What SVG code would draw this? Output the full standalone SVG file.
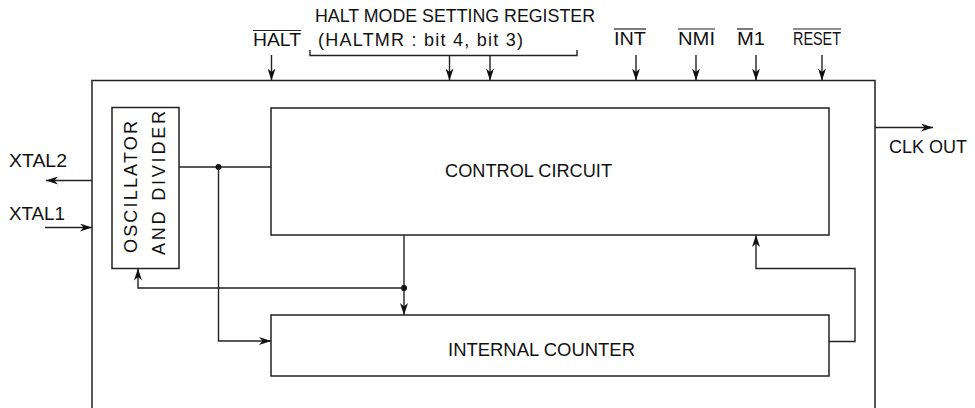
<svg xmlns="http://www.w3.org/2000/svg" width="975" height="408" viewBox="0 0 975 408">
<style>
text{font-family:"Liberation Sans",Arial,sans-serif;font-size:18px;fill:#111}
.b{fill:none;stroke:#222;stroke-width:1.5}
.w{fill:none;stroke:#222;stroke-width:1.4}
.a{fill:none;stroke:#222;stroke-width:1.4;marker-end:url(#ah)}
.o{stroke:#222;stroke-width:1.2}
</style>
<defs>
<marker id="ah" viewBox="0 0 12 8" refX="12" refY="4" markerWidth="12" markerHeight="8" markerUnits="userSpaceOnUse" orient="auto">
<path d="M0,0 L12,4 L0,8 L3.5,4 z" fill="#111"/>
</marker>
</defs>
<rect width="975" height="408" fill="#fff"/>

<g id="outer">
<path class="b" d="M92,420 V80.5 H875 V420"/>
</g>

<g id="oscillator">
<rect class="b" x="112" y="107.5" width="67" height="161"/>
<text transform="translate(137,253) rotate(-90)" textLength="132" lengthAdjust="spacing">OSCILLATOR</text>
<text transform="translate(164.5,255) rotate(-90)" textLength="144" lengthAdjust="spacing">AND DIVIDER</text>
</g>

<g id="control">
<rect class="b" x="271" y="108" width="558" height="127"/>
<text x="445" y="177" textLength="167" lengthAdjust="spacingAndGlyphs">CONTROL CIRCUIT</text>
</g>

<g id="counter">
<rect class="b" x="271" y="315" width="558" height="61"/>
<text x="448" y="355.5" textLength="187" lengthAdjust="spacingAndGlyphs">INTERNAL COUNTER</text>
</g>

<g id="labels">
<text x="315" y="21.5" textLength="280" lengthAdjust="spacingAndGlyphs">HALT MODE SETTING REGISTER</text>
<text x="318" y="45.5" textLength="205" lengthAdjust="spacing">(HALTMR  :  bit 4, bit 3)</text>
<text x="253" y="45.5" textLength="48" lengthAdjust="spacingAndGlyphs">HALT</text>
<line class="o" x1="253" y1="30.5" x2="301" y2="30.5"/>
<text x="614" y="44.5" textLength="32" lengthAdjust="spacingAndGlyphs">INT</text>
<line class="o" x1="614" y1="29" x2="646" y2="29"/>
<text x="678" y="44.5" textLength="37" lengthAdjust="spacingAndGlyphs">NMI</text>
<line class="o" x1="678" y1="29" x2="715" y2="29"/>
<text x="737" y="44.5" textLength="28" lengthAdjust="spacingAndGlyphs">M1</text>
<line class="o" x1="737" y1="29" x2="753" y2="29"/>
<text x="793" y="44.5" textLength="48" lengthAdjust="spacingAndGlyphs">RESET</text>
<line class="o" x1="793" y1="29" x2="841" y2="29"/>
<text x="9" y="167" textLength="58" lengthAdjust="spacingAndGlyphs">XTAL2</text>
<text x="9" y="220" textLength="56" lengthAdjust="spacingAndGlyphs">XTAL1</text>
<text x="889" y="153" textLength="78" lengthAdjust="spacingAndGlyphs">CLK OUT</text>
</g>

<g id="connectors">
<path class="w" d="M310,50 V55.5 H577 V50"/>
<path class="a" d="M271.5,55 V80.5"/>
<path class="a" d="M449.5,55.5 V80.5"/>
<path class="a" d="M490,55.5 V80.5"/>
<path class="a" d="M636,55 V80.5"/>
<path class="a" d="M696,55 V80.5"/>
<path class="a" d="M756,55 V80.5"/>
<path class="a" d="M822,55 V80.5"/>
<path class="a" d="M92,180.5 H46"/>
<path class="a" d="M45,227.5 H92"/>
<path class="a" d="M875,127.5 H933"/>
<path class="w" d="M179,167 H271"/>
<circle cx="218.5" cy="167" r="3" fill="#111"/>
<path class="a" d="M218.5,167 V341 H271"/>
<path class="a" d="M404,235 V315"/>
<circle cx="404" cy="288" r="3" fill="#111"/>
<path class="a" d="M404,288 H138 V268.5"/>
<path class="a" d="M829,341.5 H855 V268.5 H756 V235"/>
</g>
</svg>
